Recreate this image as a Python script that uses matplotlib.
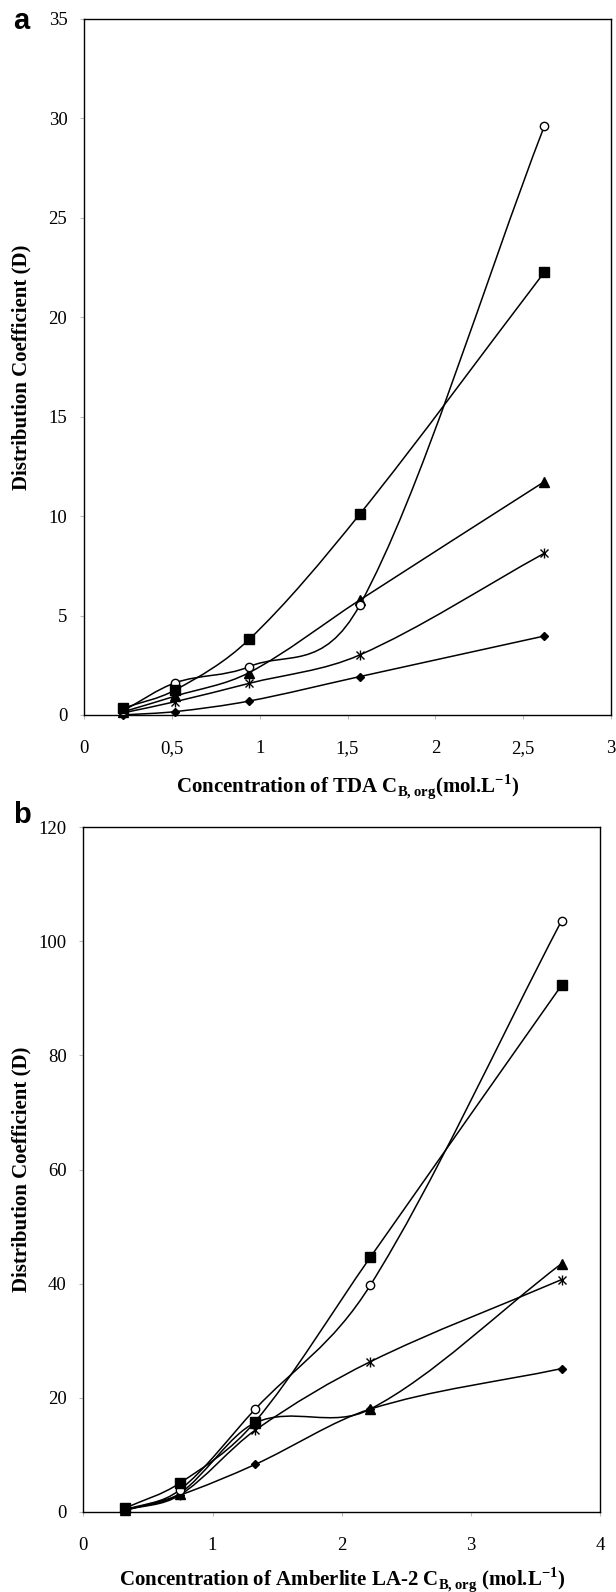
import numpy as np
import matplotlib
matplotlib.use("Agg")
import matplotlib.pyplot as plt
from matplotlib.path import Path
from matplotlib.patches import PathPatch

plt.rcParams["font.family"] = ["Liberation Serif", "DejaVu Serif"]
plt.rcParams["mathtext.fontset"] = "custom"
plt.rcParams["mathtext.rm"] = "Liberation Serif"
plt.rcParams["mathtext.bf"] = "Liberation Serif:bold"

# panel a: TDA
x_a = [0.22, 0.52, 0.94, 1.57, 2.62]
a_square = [0.33, 1.26, 3.80, 10.1, 22.26]
a_circle = [0.20, 1.62, 2.43, 5.53, 29.6]
a_triangle = [0.15, 0.95, 2.13, 5.78, 11.73]
a_star = [0.10, 0.67, 1.59, 3.02, 8.13]
a_diamond = [0.0, 0.17, 0.70, 1.93, 3.97]

# panel b: Amberlite LA-2
x_b = [0.32, 0.745, 1.33, 2.22, 3.70]
b_square = [0.6, 5.0, 15.8, 44.6, 92.3]
b_circle = [0.3, 3.8, 18.0, 39.7, 103.6]
b_triangle = [0.3, 3.2, 15.6, 18.0, 43.5]
b_star = [0.3, 2.9, 14.3, 26.3, 40.7]
b_diamond = [0.2, 2.9, 8.3, 18.0, 25.1]

a_xticks = [0, 0.5, 1, 1.5, 2, 2.5, 3]
a_xticklabels = ["0", "0,5", "1", "1,5", "2", "2,5", "3"]
a_yticks = [0, 5, 10, 15, 20, 25, 30, 35]
b_xticks = [0, 1, 2, 3, 4]
b_yticks = [0, 20, 40, 60, 80, 100, 120]


def smooth_path(x, y):
    # smoothed line like excel: cubic hermite in x, drawn as bezier segments
    x = np.asarray(x, float)
    y = np.asarray(y, float)
    n = len(x)
    slopes = np.zeros(n)
    slopes[0] = (y[1] - y[0]) / (x[1] - x[0])
    slopes[-1] = (y[-1] - y[-2]) / (x[-1] - x[-2])
    for i in range(1, n - 1):
        slopes[i] = (y[i + 1] - y[i - 1]) / (x[i + 1] - x[i - 1])
    verts = [(x[0], y[0])]
    codes = [Path.MOVETO]
    for i in range(n - 1):
        h = (x[i + 1] - x[i]) / 3
        verts += [(x[i] + h, y[i] + h * slopes[i]),
                  (x[i + 1] - h, y[i + 1] - h * slopes[i + 1]),
                  (x[i + 1], y[i + 1])]
        codes += [Path.CURVE4] * 3
    return Path(verts, codes)


def draw_series(ax, x, y, kind):
    ax.add_patch(PathPatch(smooth_path(x, y), fill=False, lw=1.1,
                           edgecolor="black", zorder=2, clip_on=False))
    if kind == "square":
        ax.plot(x, y, ls="none", marker="s", ms=7.2, color="black", zorder=3, clip_on=False)
    elif kind == "circle":
        ax.plot(x, y, ls="none", marker="o", ms=6, mfc="white", mec="black",
                mew=1.0, zorder=3, clip_on=False)
    elif kind == "triangle":
        ax.plot(x, y, ls="none", marker="^", ms=6.5, color="black", zorder=3, clip_on=False)
    elif kind == "star":
        ax.plot(x, y, ls="none", marker="x", ms=6, mew=1.0, color="black", zorder=3, clip_on=False)
        ax.plot(x, y, ls="none", marker="|", ms=7, mew=1.0, color="black", zorder=3, clip_on=False)
    elif kind == "diamond":
        ax.plot(x, y, ls="none", marker="D", ms=4.5, color="black", zorder=3, clip_on=False)


def style_axes(ax):
    for sp in ax.spines.values():
        sp.set_color("black")
        sp.set_linewidth(1.0)
    ax.tick_params(axis="both", direction="out", length=3, color="#bbbbbb",
                   labelsize=13.5, pad=9)
    ax.tick_params(axis="x", pad=15)


fig = plt.figure(figsize=(6.16, 15.92), dpi=100)

ax1 = fig.add_axes([0.1364, 0.5509, 0.8555, 0.4372])
draw_series(ax1, x_a, a_diamond, "diamond")
draw_series(ax1, x_a, a_star, "star")
draw_series(ax1, x_a, a_triangle, "triangle")
draw_series(ax1, x_a, a_circle, "circle")
draw_series(ax1, x_a, a_square, "square")
ax1.set_xlim(0, 3)
ax1.set_ylim(0, 35)
ax1.set_xticks(a_xticks)
ax1.set_xticklabels(a_xticklabels)
ax1.set_yticks(a_yticks)
style_axes(ax1)
ax1.set_xlabel(r"Concentration of TDA C$_{\mathbf{B,org}}$(mol.L$^{\mathbf{-1}}$)",
               fontsize=15, fontweight="bold", va="center")
ax1.xaxis.set_label_coords(0.5, -0.1034)
ax1.set_ylabel("Distribution Coefficient (D)", fontsize=15, fontweight="bold", va="center")
ax1.yaxis.set_label_coords(-0.118, 0.5)
fig.text(0.034, 0.9868, "a", fontsize=21, fontweight="bold",
         family="Liberation Sans", va="center", ha="center")

ax2 = fig.add_axes([0.1352, 0.0504, 0.8393, 0.4299])
draw_series(ax2, x_b, b_diamond, "diamond")
draw_series(ax2, x_b, b_star, "star")
draw_series(ax2, x_b, b_triangle, "triangle")
draw_series(ax2, x_b, b_circle, "circle")
draw_series(ax2, x_b, b_square, "square")
ax2.set_xlim(0, 4)
ax2.set_ylim(0, 120)
ax2.set_xticks(b_xticks)
ax2.set_yticks(b_yticks)
style_axes(ax2)
ax2.set_xlabel(r"Concentration of Amberlite LA-2 C$_{\mathbf{B,org}}$ (mol.L$^{\mathbf{-1}}$)",
               fontsize=15, fontweight="bold", va="center")
ax2.xaxis.set_label_coords(0.5, -0.0998)
ax2.set_ylabel("Distribution Coefficient (D)", fontsize=15, fontweight="bold", va="center")
ax2.yaxis.set_label_coords(-0.1186, 0.5)
fig.text(0.036, 0.488, "b", fontsize=21, fontweight="bold",
         family="Liberation Sans", va="center", ha="center")

fig.savefig("out.png", dpi=100)
